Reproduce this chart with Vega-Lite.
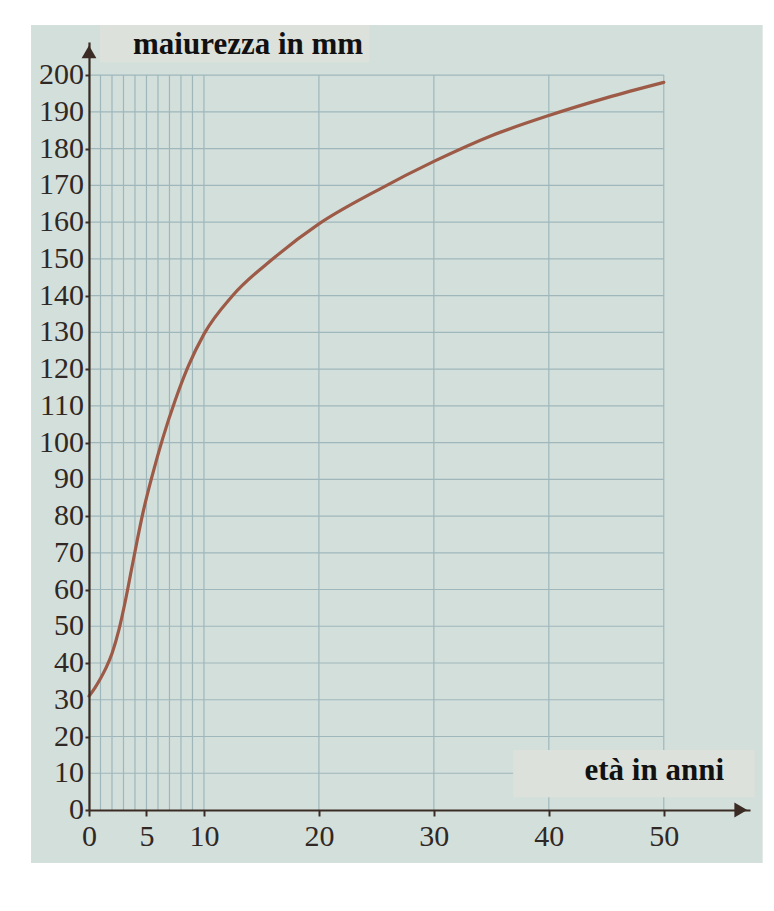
{
  "$schema": "https://vega.github.io/schema/vega-lite/v6.json",
  "width": 661,
  "height": 768,
  "autosize": {"type": "none"},
  "padding": {"left": 89, "top": 42, "right": 24, "bottom": 101},
  "background": "#ffffff",
  "config": {
    "view": {"stroke": null},
    "axis": {"labelOverlap": false, "labelFlush": false}
  },
  "datasets": {
    "paper": [{"x0": -5.04, "x1": 58.6, "y0": -14.4, "y1": 213.6}],
    "vgrid": [
      {"age": 0, "lo": 0, "hi": 200}, {"age": 1, "lo": 0, "hi": 200}, {"age": 2, "lo": 0, "hi": 200},
      {"age": 3, "lo": 0, "hi": 200}, {"age": 4, "lo": 0, "hi": 200}, {"age": 5, "lo": 0, "hi": 200},
      {"age": 6, "lo": 0, "hi": 200}, {"age": 7, "lo": 0, "hi": 200}, {"age": 8, "lo": 0, "hi": 200},
      {"age": 9, "lo": 0, "hi": 200}, {"age": 10, "lo": 0, "hi": 200}, {"age": 20, "lo": 0, "hi": 200},
      {"age": 30, "lo": 0, "hi": 200}, {"age": 40, "lo": 0, "hi": 200}, {"age": 50, "lo": 0, "hi": 200}
    ],
    "hgrid": [
      {"mm": 10, "lo": 0, "hi": 50}, {"mm": 20, "lo": 0, "hi": 50}, {"mm": 30, "lo": 0, "hi": 50},
      {"mm": 40, "lo": 0, "hi": 50}, {"mm": 50, "lo": 0, "hi": 50}, {"mm": 60, "lo": 0, "hi": 50},
      {"mm": 70, "lo": 0, "hi": 50}, {"mm": 80, "lo": 0, "hi": 50}, {"mm": 90, "lo": 0, "hi": 50},
      {"mm": 100, "lo": 0, "hi": 50}, {"mm": 110, "lo": 0, "hi": 50}, {"mm": 120, "lo": 0, "hi": 50},
      {"mm": 130, "lo": 0, "hi": 50}, {"mm": 140, "lo": 0, "hi": 50}, {"mm": 150, "lo": 0, "hi": 50},
      {"mm": 160, "lo": 0, "hi": 50}, {"mm": 170, "lo": 0, "hi": 50}, {"mm": 180, "lo": 0, "hi": 50},
      {"mm": 190, "lo": 0, "hi": 50}, {"mm": 200, "lo": 0, "hi": 50}
    ],
    "ylabels": [
      {"mm": 0}, {"mm": 10}, {"mm": 20}, {"mm": 30}, {"mm": 40}, {"mm": 50}, {"mm": 60},
      {"mm": 70}, {"mm": 80}, {"mm": 90}, {"mm": 100}, {"mm": 110}, {"mm": 120},
      {"mm": 130}, {"mm": 140}, {"mm": 150}, {"mm": 160}, {"mm": 170}, {"mm": 180},
      {"mm": 190}, {"mm": 200}
    ],
    "boxes": [
      {"x0": 0.96, "x1": 24.4, "y0": 203.5, "y1": 213.6},
      {"x0": 36.9, "x1": 57.9, "y0": 3.5, "y1": 16.3}
    ],
    "titles": [
      {"label": "maiurezza in mm", "tx": 3.83, "ty": 205.7},
      {"label": "età in anni", "tx": 43.1, "ty": 8.2}
    ],
    "arrows": [
      {"age": 0, "mm": 206.3, "dir": "triangle-up"},
      {"age": 56.7, "mm": 0, "dir": "triangle-right"}
    ],
    "curve": [
      {"age": 0, "mm": 31},
      {"age": 0.5, "mm": 33.2},
      {"age": 1, "mm": 35.8},
      {"age": 1.5, "mm": 38.8},
      {"age": 2, "mm": 42.6},
      {"age": 2.6, "mm": 49},
      {"age": 3.2, "mm": 57.5},
      {"age": 3.7, "mm": 65.5},
      {"age": 4.2, "mm": 73.5},
      {"age": 4.7, "mm": 81},
      {"age": 5.5, "mm": 91},
      {"age": 6.4, "mm": 101},
      {"age": 7.5, "mm": 111.5},
      {"age": 8.6, "mm": 120.5},
      {"age": 10, "mm": 129.5},
      {"age": 12.5, "mm": 140},
      {"age": 16, "mm": 150},
      {"age": 20, "mm": 159.5},
      {"age": 25, "mm": 168.5},
      {"age": 30, "mm": 176.5},
      {"age": 35, "mm": 183.5},
      {"age": 40, "mm": 189},
      {"age": 45, "mm": 193.8},
      {"age": 50, "mm": 198}
    ]
  },
  "layer": [
    {
      "data": {"name": "paper"},
      "mark": {"type": "rect", "fill": "#d3dfdb", "clip": false},
      "encoding": {
        "x": {
          "field": "x0", "type": "quantitative",
          "scale": {"domain": [0, 57.5], "nice": false, "zero": false},
          "axis": {
            "title": null,
            "zindex": 2,
            "values": [0, 5, 10, 20, 30, 40, 50],
            "grid": false,
            "domainColor": "#3a2c25",
            "domainWidth": 2.2,
            "tickColor": "#3a2c25",
            "tickWidth": 2,
            "tickSize": 6,
            "labelPadding": 5,
            "labelFont": "Liberation Serif",
            "labelFontSize": 30,
            "labelColor": "#2f2824",
            "labelFlush": false,
            "labelOverlap": false
          }
        },
        "x2": {"field": "x1"},
        "y": {
          "field": "y0", "type": "quantitative",
          "scale": {"domain": [0, 209], "nice": false, "zero": false},
          "axis": {
            "title": null,
            "zindex": 2,
            "values": [0, 10, 20, 30, 40, 50, 60, 70, 80, 90, 100, 110, 120, 130, 140, 150, 160, 170, 180, 190, 200],
            "grid": false,
            "labels": false,
            "domainColor": "#3a2c25",
            "domainWidth": 2.2,
            "tickColor": "#3a2c25",
            "tickWidth": 2,
            "tickSize": 4
          }
        },
        "y2": {"field": "y1"}
      }
    },
    {
      "data": {"name": "vgrid"},
      "mark": {"type": "rule", "color": "#9fb7bb", "strokeWidth": 1.2},
      "encoding": {
        "x": {"field": "age", "type": "quantitative"},
        "y": {"field": "lo", "type": "quantitative"},
        "y2": {"field": "hi"}
      }
    },
    {
      "data": {"name": "hgrid"},
      "mark": {"type": "rule", "color": "#9fb7bb", "strokeWidth": 1.2},
      "encoding": {
        "y": {"field": "mm", "type": "quantitative"},
        "x": {"field": "lo", "type": "quantitative"},
        "x2": {"field": "hi"}
      }
    },
    {
      "data": {"name": "ylabels"},
      "mark": {"type": "text", "font": "Liberation Serif", "fontSize": 30, "color": "#2f2824", "align": "right", "baseline": "middle", "dx": -5, "clip": false},
      "encoding": {
        "y": {"field": "mm", "type": "quantitative"},
        "x": {"datum": 0, "type": "quantitative"},
        "text": {"field": "mm", "type": "quantitative"}
      }
    },
    {
      "data": {"name": "boxes"},
      "mark": {"type": "rect", "fill": "#dde1dc", "clip": false},
      "encoding": {
        "x": {"field": "x0", "type": "quantitative"},
        "x2": {"field": "x1"},
        "y": {"field": "y0", "type": "quantitative"},
        "y2": {"field": "y1"}
      }
    },
    {
      "data": {"name": "titles"},
      "mark": {"type": "text", "font": "Liberation Serif", "fontWeight": "bold", "fontSize": 31, "color": "#111111", "align": "left", "baseline": "alphabetic", "clip": false},
      "encoding": {
        "x": {"field": "tx", "type": "quantitative"},
        "y": {"field": "ty", "type": "quantitative"},
        "text": {"field": "label", "type": "nominal"}
      }
    },
    {
      "data": {"name": "curve"},
      "mark": {"type": "line", "interpolate": "monotone", "color": "#9c5a47", "strokeWidth": 3.2, "strokeCap": "round"},
      "encoding": {
        "x": {"field": "age", "type": "quantitative"},
        "y": {"field": "mm", "type": "quantitative"}
      }
    },
    {
      "data": {"name": "arrows"},
      "mark": {"type": "point", "filled": true, "color": "#3a2c25", "opacity": 1, "size": 220, "clip": false},
      "encoding": {
        "x": {"field": "age", "type": "quantitative"},
        "y": {"field": "mm", "type": "quantitative"},
        "shape": {"field": "dir", "type": "nominal", "scale": {"domain": ["triangle-up", "triangle-right"], "range": ["triangle-up", "triangle-right"]}, "legend": null}
      }
    }
  ]
}
